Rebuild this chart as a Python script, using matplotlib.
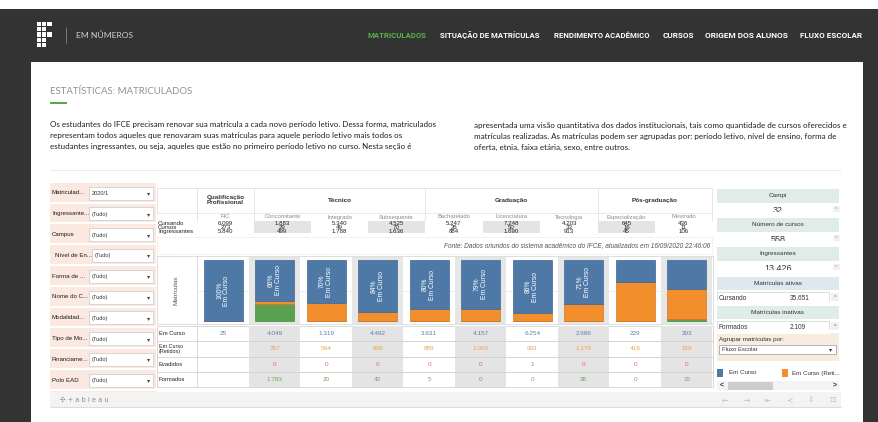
import matplotlib
matplotlib.use("Agg")
import matplotlib.pyplot as plt
from matplotlib.patches import Rectangle
import numpy as np

# ---------------- data ----------------
nav_items = ["MATRICULADOS", "SITUAÇÃO DE MATRÍCULAS", "RENDIMENTO ACADÊMICO",
             "CURSOS", "ORIGEM DOS ALUNOS", "FLUXO ESCOLAR"]
page_title = "ESTATÍSTICAS: MATRICULADOS"
para_left = ["Os estudantes do IFCE precisam renovar sua matrícula a cada novo período letivo. Dessa forma, matriculados",
             "representam todos aqueles que renovaram suas matrículas para aquele período letivo mais todos os",
             "estudantes ingressantes, ou seja, aqueles que estão no primeiro período letivo no curso. Nesta seção é"]
para_right = ["apresentada uma visão quantitativa dos dados institucionais, tais como quantidade de cursos oferecidos e",
              "matrículas realizadas. As matrículas podem ser agrupadas por: período letivo, nível de ensino, forma de",
              "oferta, etnia, faixa etária, sexo, entre outros."]

filter_labels = ["Matriculad...", "Ingressante...", "Campus", "Nível de En...", "Forma de ...",
                 "Nome do C...", "Modalidad...", "Tipo de Mo...", "Financiame...", "Polo EAD"]
filter_values = ["2020/1", "(Tudo)", "(Tudo)", "(Tudo)", "(Tudo)",
                 "(Tudo)", "(Tudo)", "(Tudo)", "(Tudo)", "(Tudo)"]

groups = ["Qualificação\nProfissional", "Técnico", "Graduação", "Pós-graduação"]
group_sizes = [1, 3, 3, 2]
subcats = ["FIC", "Concomitante", "Integrado", "Subsequente", "Bacharelado",
           "Licenciatura", "Tecnologia", "Especialização", "Mestrado"]
row_names = ["Cursando", "Cursos", "Ingressantes"]
cursando = [6099, 1883, 5340, 4525, 5247, 7248, 4203, 645, 436]
cursos = [273, 29, 49, 70, 26, 50, 33, 16, 11]
ingressantes = [5840, 499, 1788, 1636, 884, 1690, 913, 45, 106]
fonte = "Fonte: Dados oriundos do sistema acadêmico do IFCE, atualizados em 16/09/2020 22:46:06"

series_names = ["Em Curso", "Em Curso\n(Retidos)", "Evadidos", "Formados"]
em_curso = [25, 4049, 1319, 4492, 3631, 4157, 6254, 2986, 229, 203]
retidos = [None, 267, 544, 806, 889, 1090, 993, 1179, 416, 218]
evadidos = [None, 0, 0, 0, 0, 0, 1, 0, 0, 0]
formados = [None, 1783, 20, 42, 5, 0, 0, 38, 0, 15]

kpi_titles = ["Campi", "Número de cursos", "Ingressantes"]
kpi_values = [32, 558, 13426]
ativas = ("Cursando", 35651)
inativas = ("Formados", 2109)
agrupar_label = "Agrupar matrículas por:"
agrupar_value = "Fluxo Escolar"
legend_items = ["Em Curso", "Em Curso (Reti..."]

# ---------------- styles ----------------
C_BLUE, C_ORANGE, C_RED, C_GREEN = "#4e79a7", "#f28e2b", "#e15759", "#59a14f"
TAB = ["Liberation Sans", "DejaVu Sans"]
WEB = ["Lato", "DejaVu Sans"]
DARK = "#333333"

def fmt(v):
    return f"{v:,}".replace(",", ".")

W, H = 879, 422
fig = plt.figure(figsize=(W / 100, H / 100), dpi=100)
ov = fig.add_axes([0, 0, 1, 1], zorder=0)
ov.set_xlim(0, W)
ov.set_ylim(H, 0)
ov.axis("off")
R = fig.canvas.get_renderer()

def rect(x0, y0, x1, y1, fc, ec="none", lw=0.6, z=1, ls="-"):
    ov.add_patch(Rectangle((x0, y0), x1 - x0, y1 - y0, facecolor=fc, edgecolor=ec,
                           lw=lw, zorder=z, linestyle=ls))

def line(x0, y0, x1, y1, c="#dddddd", lw=0.6, z=2, ls="-"):
    ov.plot([x0, x1], [y0, y1], color=c, lw=lw, zorder=z, ls=ls, solid_capstyle="butt")

def txt(x, y, s, size=4.5, color="#333333", ha="left", va="center", family=TAB,
        weight="normal", z=5, **kw):
    return ov.text(x, y, s, fontsize=size, color=color, ha=ha, va=va, family=family,
                   fontweight=weight, zorder=z, **kw)

def fit(t, w):
    bb = t.get_window_extent(R)
    t.set_fontsize(t.get_fontsize() * w / bb.width)
    return t.get_fontsize()

# ---------------- page chrome ----------------
rect(0, 0, W, H, "white", z=0)
rect(0, 9, W, 62, DARK, z=0.5)
rect(0, 62, 31, H, DARK, z=0.5)
rect(863, 62, W, H, DARK, z=0.5)

# logo
logo = [[1, 1, 1], [1, 1, 0], [1, 1, 1], [1, 1, 0], [1, 1, 0]]
for r_, row in enumerate(logo):
    for c_, on in enumerate(row):
        if on:
            rect(37 + c_ * 5.2, 22 + r_ * 5.2, 37 + c_ * 5.2 + 4.2, 22 + r_ * 5.2 + 4.2, "white", z=2)
line(66, 27, 66, 43, c="#888888", lw=0.6)
t = txt(76, 35.5, "EM NÚMEROS", size=6, color="#cfcfcf", family=WEB)
fit(t, 57)

nav_x = [(368, 427), (440, 540), (554, 650), (663, 694), (705, 788), (800, 862)]
for i, item in enumerate(nav_items):
    col = "#5cb04a" if i == 0 else "white"
    t = txt(nav_x[i][0], 35.5, item, size=5, color=col, family=["Roboto", "DejaVu Sans"],
            weight="bold")
    fit(t, nav_x[i][1] - nav_x[i][0])

# title + paragraph
t = txt(50, 92, page_title, size=7, color="#8b929a", family=WEB)
fit(t, 143)
rect(50, 101.5, 67, 104, "#58a849", z=2)

t0 = txt(50, 124.5, para_left[0], size=6, color="#1e1e1e", family=WEB)
ps = fit(t0, 382)
for i, s in enumerate(para_left[1:], start=1):
    txt(50, 124.5 + 10.8 * i, s, size=ps, color="#1e1e1e", family=WEB)
for i, s in enumerate(para_right):
    txt(474, 125.5 + 10.8 * i, s, size=ps, color="#1e1e1e", family=WEB)
line(50, 170, 841, 170, c="#ececec", lw=0.8)

# ---------------- filter panel ----------------
rect(50, 183, 156, 392, "#fbe9e1", z=1)
for i, (lab, val) in enumerate(zip(filter_labels, filter_values)):
    yc = 193 + 20.8 * i
    dx = 3 if i == 3 else 0
    rect(50, yc + 8.5, 156, yc + 10.5, "white", z=1.5)
    rect(89 + dx, yc - 6.5, 153, yc + 6.5, "white", ec="#c8c8c8", lw=0.5, z=2)
    txt(52 + dx, yc, lab, size=4.4, color="#1a1a1a")
    txt(92 + dx, yc + 0.5, val, size=4.1, color="#333333")
    txt(149, yc + 0.5, "▾", size=4.5, color="#444444", ha="center", family=["DejaVu Sans"])

# ---------------- top table ----------------
bounds = [197, 254, 425, 598, 712]
line(157, 188, 712, 188, c="#e0e0e0")
line(157, 213, 712, 213, c="#e6e6e6")
line(157, 188, 157, 213, c="#e0e0e0")
for b in bounds:
    line(b, 188, b, 221, c="#e0e0e0")
sub_centers = []
sub_edges = []
for g, (gname, n) in enumerate(zip(groups, group_sizes)):
    x0, x1 = bounds[g], bounds[g + 1]
    w = (x1 - x0) / n
    for k in range(n):
        sub_edges.append((x0 + k * w, x0 + (k + 1) * w))
        sub_centers.append(x0 + (k + 0.5) * w)
    txt((x0 + x1) / 2, 200.5, gname, size=4.6, color="#333333", ha="center",
        weight="bold", linespacing=1.0)
rows = [cursando, cursos, ingressantes]
for j, (e0, e1) in enumerate(sub_edges):
    if j % 2 == 1:
        rect(e0, 221, e1, 233, "#e4e4e4", z=1.5)
for j, name in enumerate(subcats):
    txt(sub_centers[j], 217, name, size=4.2, color="#8a8a8a", ha="center")
for r_, (rn, vals) in enumerate(zip(row_names, rows)):
    yy = 223.6 + 3.8 * r_
    txt(158, yy, rn, size=4.4, color="#222222")
    for j, v in enumerate(vals):
        txt(sub_centers[j], yy, fmt(v), size=4.4, color="#222222", ha="center")
rect(157, 237, 712, 254, "none", ec="#ece6c6", lw=0.6, ls=(0, (2, 1.5)), z=2)
txt(710, 246, fonte, size=4.7, color="#555555", ha="right", style="italic")

# ---------------- bar panel ----------------
rect(157, 256, 713, 324, "white", ec="#d8d8d8", lw=0.6, z=1)
line(197, 256, 197, 324, c="#d8d8d8")
txt(176, 290, "Matrículas", size=4.6, color="#555555", ha="center", rotation=90)

n = len(em_curso)
def arr(a):
    return np.array([0 if v is None else v for v in a], dtype=float)
ec_a, re_a, ev_a, fo_a = arr(em_curso), arr(retidos), arr(evadidos), arr(formados)
tot = ec_a + re_a + ev_a + fo_a
x = np.arange(n)

def fig_rect(x0, y0, x1, y1):
    return [x0 / W, 1 - y1 / H, (x1 - x0) / W, (y1 - y0) / H]

ax = fig.add_axes(fig_rect(197.5, 256.5, 712.5, 323.5), zorder=3)
ax.set_facecolor("none")
ax.set_xlim(-0.5, n - 0.5)
ax.set_ylim(-2.0 / 61, 1 + 3.5 / 61)
for i in range(n):
    if i % 2 == 1:
        ax.axvspan(i - 0.5, i + 0.5, color="#e6e6e6", zorder=0, lw=0)
ax.axhline(0.5, color="#e9e9e9", lw=0.6, zorder=0.5)
bottom = np.zeros(n)
for vals, col, edge in [(fo_a, C_GREEN, "#4a8a42"), (ev_a, C_RED, "#c04a4c"),
                        (re_a, C_ORANGE, "#cf7a26"), (ec_a, C_BLUE, "#3e6690")]:
    share = vals / tot
    ax.bar(x, share, bottom=bottom, width=0.75, color=col, edgecolor=edge, lw=0.5, zorder=2)
    bottom += share
shares = ec_a / tot
for i in range(n):
    if shares[i] >= 0.5:
        yc = 1 - shares[i] / 2
        ax.text(i, yc, f"{shares[i]*100:.0f}%\nEm Curso", rotation=90, ha="center", va="center",
                color="white", fontsize=4.9, family=TAB, linespacing=1.1, zorder=4)
ax.axis("off")

# ---------------- bottom table ----------------
row_y = [326, 341.3, 356.5, 371.8, 387]
for yy in row_y:
    line(157, yy, 713, yy, c="#d2d2d2")
for xx in (157, 197, 713):
    line(xx, 326, xx, 387, c="#d2d2d2")
axt = fig.add_axes(fig_rect(197.5, 326.3, 712.5, 386.7), zorder=2)
axt.set_facecolor("none")
axt.set_xlim(-0.5, n - 0.5)
axt.set_ylim(4, 0)
for i in range(n):
    if i % 2 == 1:
        axt.axvspan(i - 0.5, i + 0.5, color="#e4e4e4", zorder=0, lw=0)
for r_ in range(3):
    axt.axhline(r_ + 1, color="#d2d2d2", lw=0.6, zorder=1)
series = [em_curso, retidos, evadidos, formados]
colors = ["#5b7fa8", "#f0a04e", "#e06a6c", "#6aaa5f"]
for r_, (vals, col) in enumerate(zip(series, colors)):
    for i, v in enumerate(vals):
        if v is not None:
            axt.text(i, r_ + 0.5, fmt(v), ha="center", va="center", color=col,
                     fontsize=4.6, family=TAB)
axt.axis("off")
for r_, name in enumerate(series_names):
    yc = (row_y[r_] + row_y[r_ + 1]) / 2
    txt(159, yc, name, size=4.2 if "\n" not in name else 3.9, color="#222222",
        linespacing=1.0)

# ---------------- right panel ----------------
RX0, RX1 = 717, 839
kpi_y = [189, 218, 247]
for i, (tt, vv) in enumerate(zip(kpi_titles, kpi_values)):
    y0 = kpi_y[i]
    rect(RX0, y0, RX1, y0 + 14, "#e0ecea", z=2)
    txt((RX0 + RX1) / 2, y0 + 7, tt, size=4.6, color="#333333", ha="center")
    txt((RX0 + RX1) / 2, y0 + 21.5, fmt(vv), size=6.5, color="#333333", ha="center", z=3)
    rect(RX0, y0 + 23.3, RX1, y0 + 29, "white", z=4)
    rect(833, y0 + 17, 840, y0 + 23, "#f1f1f1", z=4.5)
    txt(836.5, y0 + 20.5, "^", size=4, color="#999999", ha="center", z=5)
for (lab, val), y0, fc, ttl in [(ativas, 277, "#dde8ef", "Matrículas ativas"),
                                (inativas, 306, "#e0ecea", "Matrículas inativas")]:
    rect(RX0, y0, RX1, y0 + 13, fc, z=2)
    txt((RX0 + RX1) / 2, y0 + 6.5, ttl, size=4.6, color="#333333", ha="center")
    rect(RX0, y0 + 15, 829, y0 + 25, "white", ec="#cfcfcf", lw=0.5, z=2)
    txt(719, y0 + 21.5, lab, size=4.7, color="#333333", z=3)
    txt(790, y0 + 21.5, fmt(val), size=4.7, color="#333333", z=3)
    rect(RX0 - 1, y0 + 23.5, 830, y0 + 28, "white", z=4)
    rect(831, y0 + 16, 839, y0 + 24, "#f1f1f1", z=4.5)
    txt(835, y0 + 20.5, "^", size=4, color="#666666", ha="center", z=5)
rect(RX0, 333, RX1, 361, "#f7ecdf", z=2)
txt(719, 339, agrupar_label, size=4.5, color="#333333")
rect(719, 345, 836, 354, "white", ec="#999999", lw=0.5, z=3)
txt(722, 349.5, agrupar_value, size=4.2, color="#333333", z=4)
txt(831, 349.8, "▾", size=4.5, color="#333333", ha="center", family=["DejaVu Sans"], z=4)
rect(717, 369, 723, 377, C_BLUE, z=3)
txt(729, 373, legend_items[0], size=4.5, color="#333333")
rect(782, 369, 788, 377, C_ORANGE, z=3)
txt(792, 373, legend_items[1], size=4.5, color="#333333")
rect(RX0, 381, RX1, 390, "#f3f3f3", z=2)
rect(728, 381.5, 773, 389.5, "#cdcdcd", z=3)
txt(722, 385.5, "<", size=5, color="#333333", ha="center", weight="bold")
txt(835, 385.5, ">", size=5, color="#333333", ha="center", weight="bold")

# ---------------- tableau footer ----------------
rect(50, 392, 841, 407, "#f3f3f3", z=1)
line(50, 407, 841, 407, c="#dcdcdc", lw=0.8)
txt(60, 400, "✣ + a b l e a u", size=4.8, color="#8c8c8c", family=["DejaVu Sans"])
for k, g in enumerate(["←", "→", "⇤", "≺", "⇩", "⊡"]):
    txt(725 + k * 21.5, 400, g, size=5.5, color="#bdbdbd", ha="center", family=["DejaVu Sans"])

fig.savefig("out.png", dpi=100)
